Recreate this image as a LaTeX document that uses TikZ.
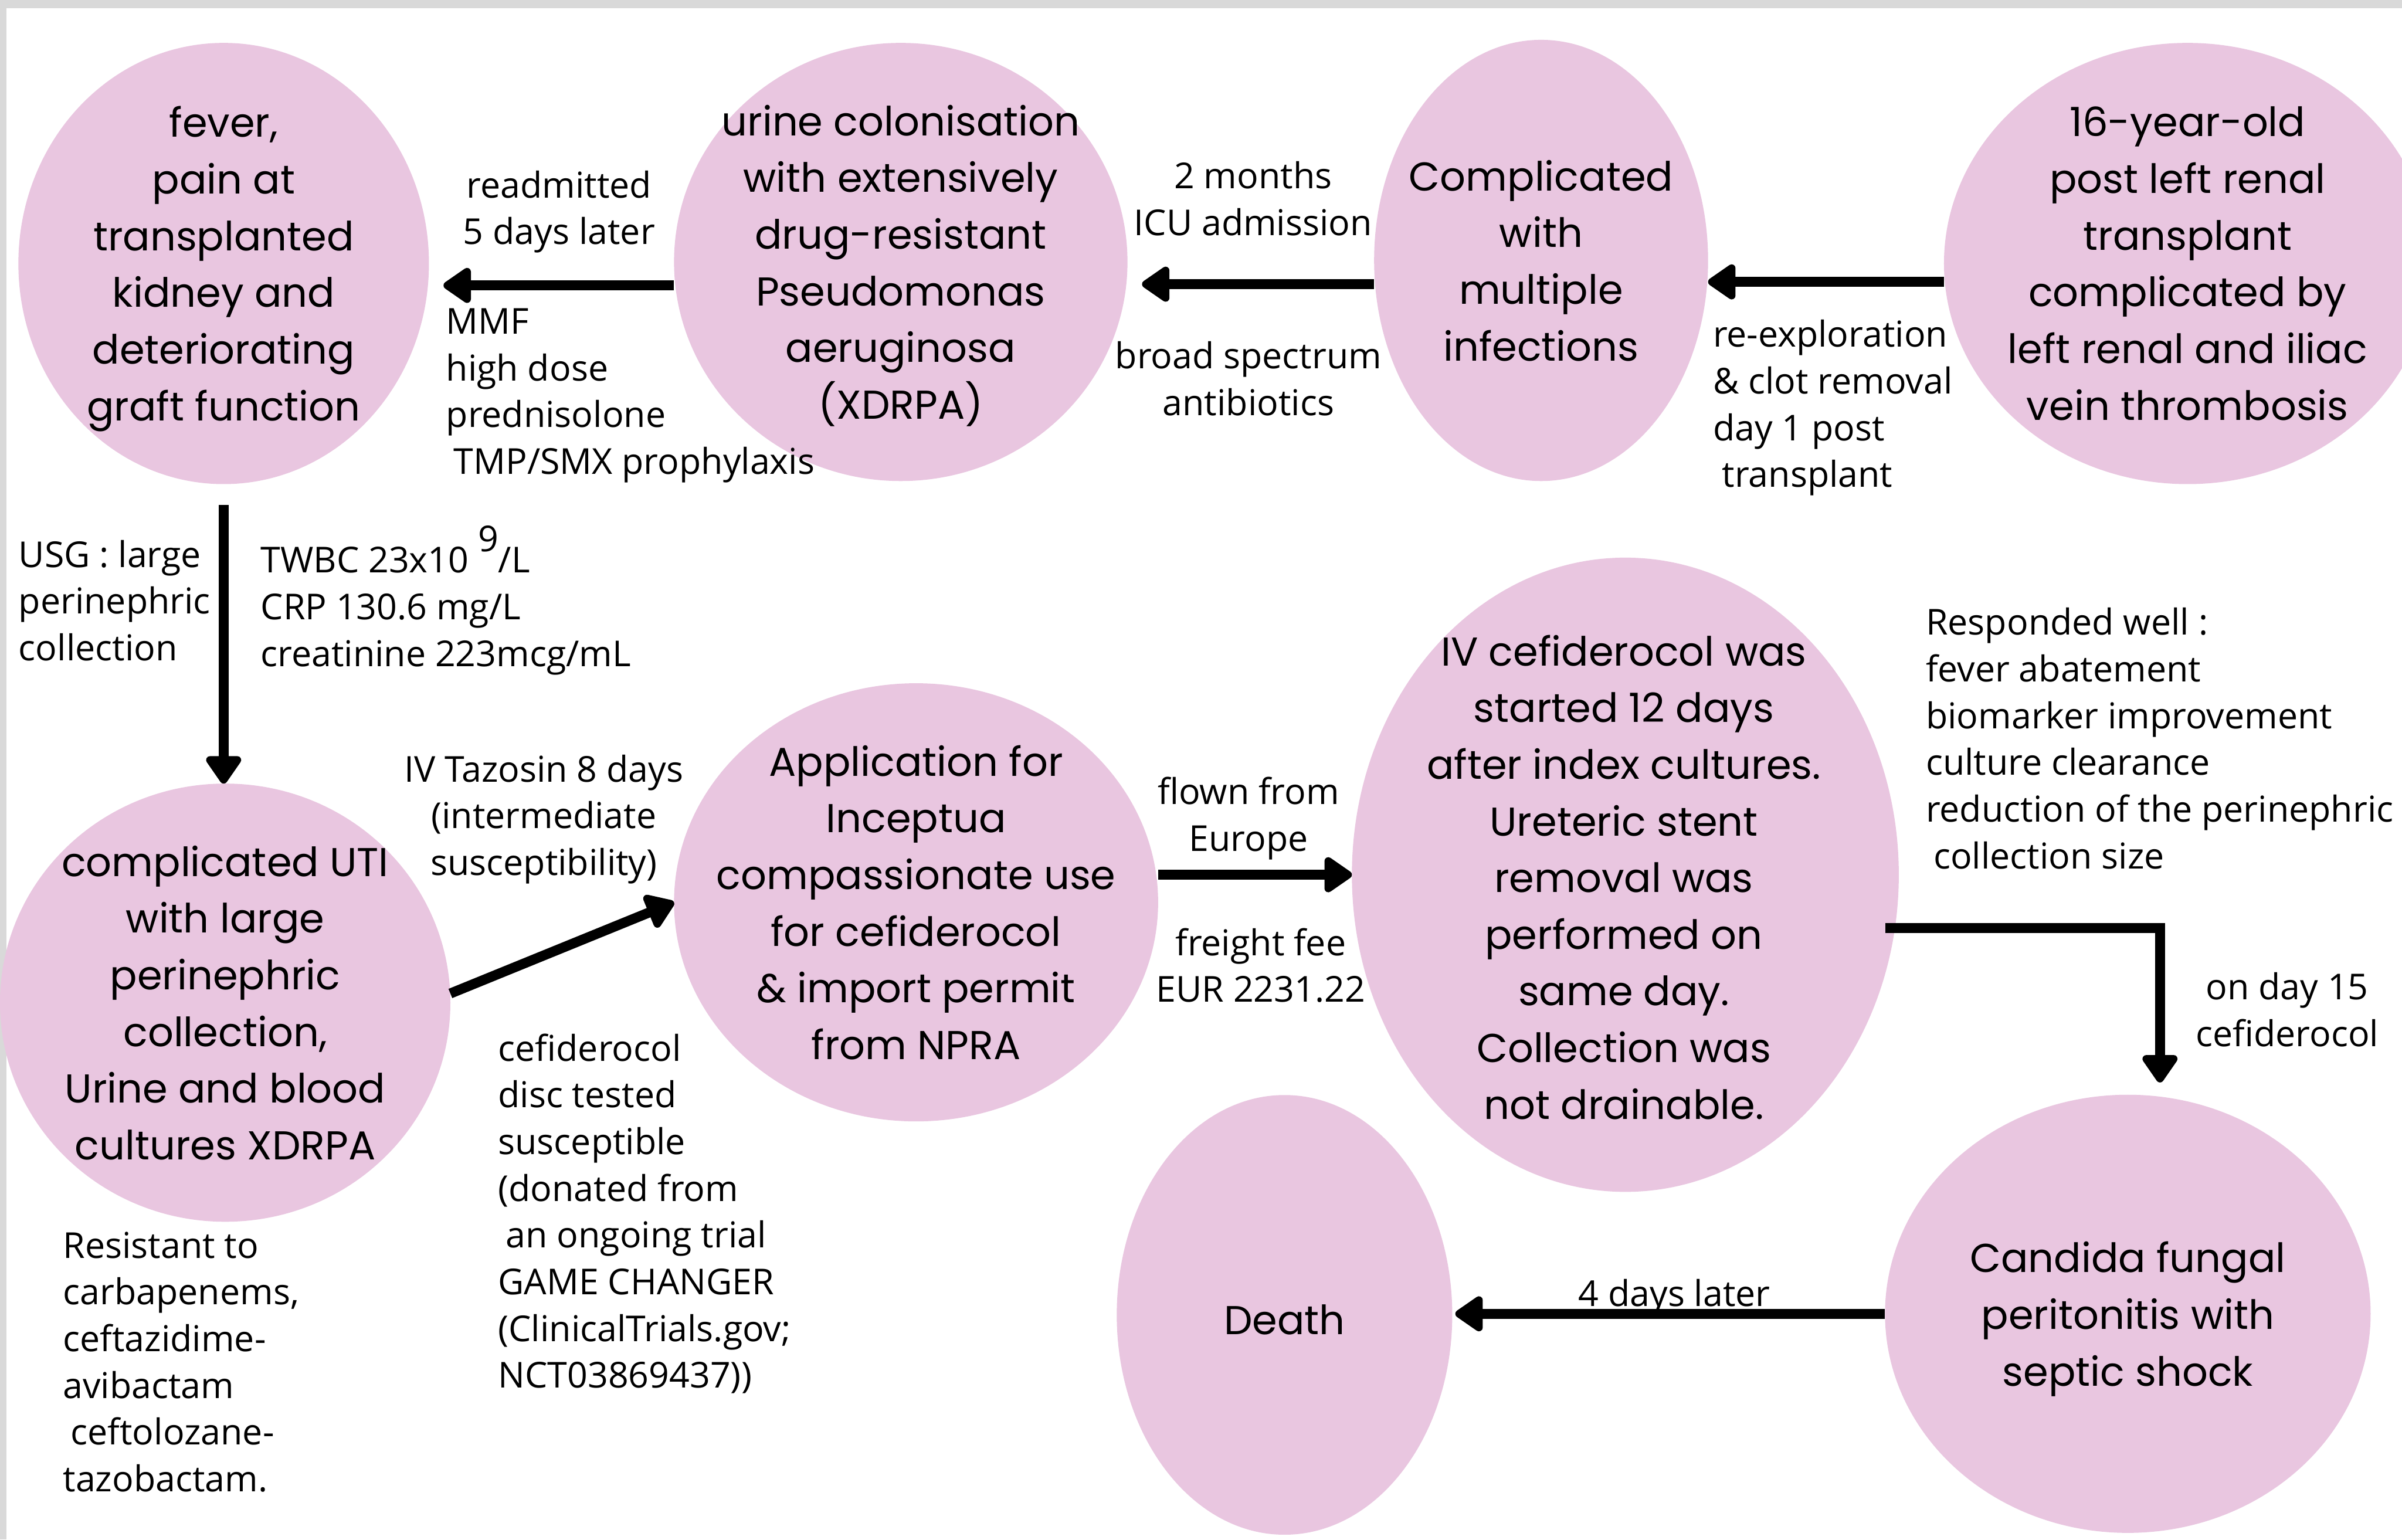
\documentclass[tikz,border=0pt]{standalone}
\usepackage{fontspec}
\setmainfont{Open Sans}
\newfontfamily\ellfont{Poppins}
\newfontfamily\labfont{Open Sans}
\usetikzlibrary{arrows.meta,shapes.geometric,calc}
\definecolor{pinkfill}{RGB}{233,198,224}
\definecolor{framegray}{RGB}{217,217,217}
\begin{document}
\begin{tikzpicture}[x=1pt,y=-1pt,
  ell/.style={ellipse, fill=pinkfill, draw=none, inner sep=0pt, outer sep=0pt},
  etext/.style={align=center, inner sep=0pt, yshift=-5.5pt, font=\ellfont\fontsize{26.3}{37}\selectfont,
    execute at begin node=\strut, execute at end node=\strut},
  lab/.style={inner sep=0pt, yshift=-4pt, font=\labfont\fontsize{23.3}{30.5}\selectfont,
    execute at begin node=\strut, execute at end node=\strut},
  arr/.style={line width=6.5pt, -{Triangle[width=26pt,length=20pt,round]}}
]
\clip (0,0) rectangle (1568,1005);
\fill[framegray] (0,0) rectangle (1568,1005);
\fill[white] (4.4,5.5) rectangle (1568,1005);

% ellipses
\node[ell, minimum width=268pt, minimum height=288pt] (E1) at (146,172) {};
\node[ell, minimum width=296pt, minimum height=286pt] (E2) at (588,171) {};
\node[ell, minimum width=218pt, minimum height=288pt] (E3) at (1006,170) {};
\node[ell, minimum width=318pt, minimum height=288pt] (E4) at (1428,172) {};
\node[ell, minimum width=294pt, minimum height=286pt] (E5) at (147,654.5) {};
\node[ell, minimum width=316pt, minimum height=286pt] (E6) at (598,589) {};
\node[ell, minimum width=357pt, minimum height=414pt] (E7) at (1061,571) {};
\node[ell, minimum width=219pt, minimum height=287pt] (E8) at (838.5,858.3) {};
\node[ell, minimum width=317pt, minimum height=286pt] (E9) at (1389,857.6) {};

% ellipse texts
\node[etext] (T1) at (E1) {fever,\\pain at\\transplanted\\kidney and\\deteriorating\\graft function};
\node[etext] (T2) at (E2) {urine colonisation\\with extensively\\drug-resistant\\Pseudomonas\\aeruginosa\\(XDRPA)};
\node[etext] (T3) at (E3) {Complicated\\with\\multiple\\infections};
\node[etext] (T4) at (E4) {16-year-old\\post left renal\\transplant\\complicated by\\left renal and iliac\\vein thrombosis};
\node[etext] (T5) at (E5) {complicated UTI\\with large\\perinephric\\collection,\\Urine and blood\\cultures XDRPA};
\node[etext] (T6) at (E6) {Application for\\Inceptua\\compassionate use\\for cefiderocol\\\& import permit\\from NPRA};
\node[etext] (T7) at (1060,572.5) {IV cefiderocol was\\started 12 days\\after index cultures.\\Ureteric stent\\removal was\\performed on\\same day.\\Collection was\\not drainable.};
\node[etext] (T8) at (E8) {Death};
\node[etext] (T9) at (E9) {Candida fungal\\peritonitis with\\septic shock};

% arrows
\coordinate (a1s) at ([yshift=-12pt]E4.west);
\draw[arr] (a1s) -- (a1s -| E3.east);
\coordinate (a2s) at ([yshift=-15.5pt]E3.west);
\draw[arr] (a2s) -- ($(a2s -| E2.east)+(9.5,0)$);
\coordinate (a3s) at ([yshift=-15.3pt]E2.west);
\draw[arr] (a3s) -- ($(a3s -| E1.east)+(9.5,0)$);
\draw[arr] ($(E1.south)+(0,13.6)$) -- (E1.south |- E5.north);
\draw[arr] ([yshift=6pt]E5.east) -- (E6.west);
\draw[arr] (E6.east |- E7.west) -- (E7.west);
\draw[arr] ($(E7.east)+(-8.7,34.6)$) -| ($(E9.north)+(21,-8)$);
\draw[arr] (E9.west) -- ($(E9.west -| E8.east)+(2,0)$);

% labels
\node[lab, align=center] (L1) at (365,136) {readmitted\\5 days later};
\node[lab, align=left, anchor=west] (L2) at (291,256) {MMF\\high dose\\prednisolone\\\hspace*{5pt}TMP/SMX prophylaxis};
\node[lab, align=center] (L3) at (818,130) {2 months\\ICU admission};
\node[lab, align=center] (L4) at (815,247.5) {broad spectrum\\antibiotics};
\node[lab, align=left, anchor=west] (L5) at (1118,264) {re-exploration\\\& clot removal\\day 1 post\\\hspace*{6pt}transplant};
\node[lab, align=left, anchor=west] (L6) at (12,392.5) {USG : large\\perinephric\\collection};
\node[lab, align=left, anchor=west] (L7) at (170,396.5) {TWBC 23x10 \smash{\raisebox{14pt}{9}}/L\\CRP 130.6 mg/L\\creatinine 223mcg/mL};
\node[lab, align=center] (L8) at (355,532.5) {IV Tazosin 8 days\\(intermediate\\susceptibility)};
\node[lab, align=left, anchor=west] (L9) at (325,791) {cefiderocol\\disc tested\\susceptible\\(donated from\\\hspace*{5pt}an ongoing trial\\GAME CHANGER\\(ClinicalTrials.gov;\\NCT03869437))};
\node[lab, align=left, anchor=west] (L10) at (41,889.5) {Resistant to\\carbapenems,\\ceftazidime-\\avibactam\\\hspace*{5pt}ceftolozane-\\tazobactam.};
\node[lab, align=center] (L11) at (815,532) {flown from\\Europe};
\node[lab, align=center] (L12) at (823,630.5) {freight fee\\EUR 2231.22};
\node[lab, align=left, anchor=west] (L13) at (1257,482.5) {Responded well :\\fever abatement\\biomarker improvement\\culture clearance\\reduction of the perinephric\\\hspace*{5pt}collection size};
\node[lab, align=center] (L14) at (1493,659.5) {on day 15\\cefiderocol};
\node[lab, align=center] (L15) at (1093,842.5) {4 days later};
\end{tikzpicture}
\end{document}
